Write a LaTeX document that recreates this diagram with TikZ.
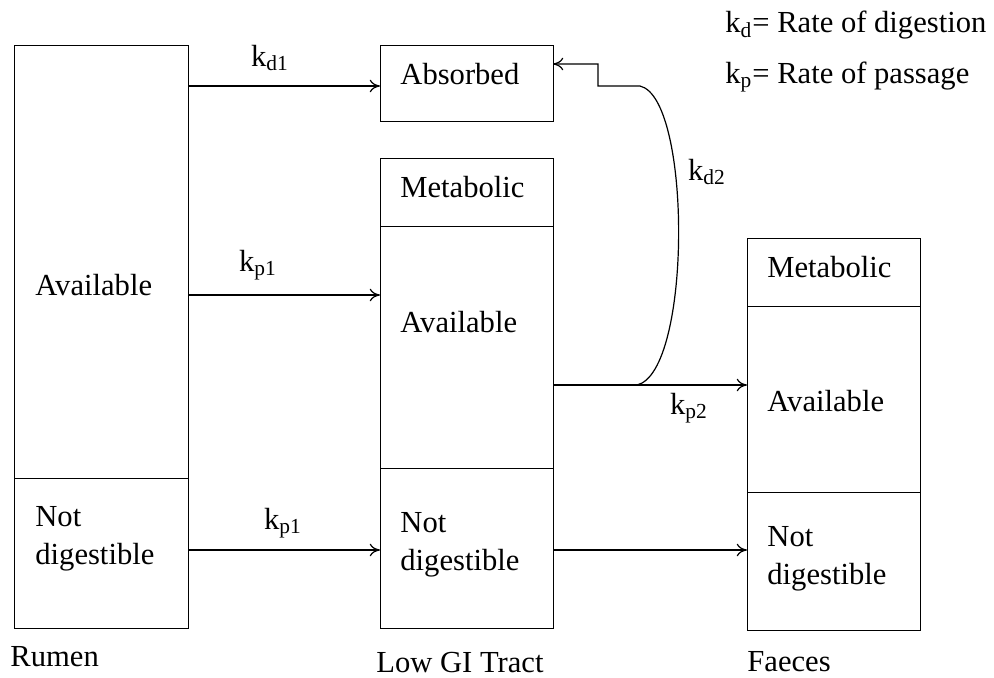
\documentclass[tikz,border=0pt]{standalone}
\usepackage{fontspec}
\setmainfont{Liberation Serif}
\usetikzlibrary{arrows.meta, positioning, calc}
\tikzset{
  sect/.style  = {rectangle, draw=black, line width=0.6pt, anchor=north west,
                  inner sep=0pt, minimum width=87pt},
  txt/.style   = {font=\fontsize{15.3}{18}\selectfont, anchor=west, inner sep=0pt,
                  align=left},
  rate/.style  = {font=\fontsize{15.3}{18}\selectfont, inner sep=1pt},
  fl/.style    = {-{To[length=1.8mm,width=2.2mm]}, draw=black, line width=0.6pt},
}
\newcommand{\rk}[1]{k\textsubscript{#1}}

\begin{document}
\begin{tikzpicture}[x=0.5pt, y=-0.5pt]
  \useasboundingbox (0,0) rectangle (994,677);

  % ---- Rumen ---------------------------------------------------------------
  \node[sect, minimum height=216.5pt] (rumA) at (14,45) {};
  \node[sect, minimum height=75pt]    (rumN) at (14,478) {};
  \node[txt] (rumAt) at (35,285) {Available};
  \node[txt] (rumNt) at (35,539) {Not\\[1pt]digestible};
  \node[txt] (rumT) at (10,657) {Rumen};

  % ---- Absorbed ------------------------------------------------------------
  \node[sect, minimum width=86.5pt, minimum height=38pt] (abs) at (380,45) {};
  \node[txt] (abst) at (400,74) {Absorbed};

  % ---- Low GI tract --------------------------------------------------------
  \node[sect, minimum width=86.5pt, minimum height=34pt]  (lowM) at (380,158) {};
  \node[sect, minimum width=86.5pt, minimum height=121pt] (lowA) at (380,226) {};
  \node[sect, minimum width=86.5pt, minimum height=80pt]  (lowN) at (380,468) {};
  \node[txt] (lowMt) at (400,187) {Metabolic};
  \node[txt] (lowAt) at (400,322) {Available};
  \node[txt] (lowNt) at (400,545) {Not\\[1pt]digestible};
  \node[txt] (lowT) at (376,662) {Low GI Tract};

  % ---- Faeces --------------------------------------------------------------
  \node[sect, minimum width=86.5pt, minimum height=34pt] (faeM) at (747,238) {};
  \node[sect, minimum width=86.5pt, minimum height=93pt] (faeA) at (747,306) {};
  \node[sect, minimum width=86.5pt, minimum height=69pt] (faeN) at (747,492) {};
  \node[txt] (faeMt) at (767,267) {Metabolic};
  \node[txt] (faeAt) at (767,401) {Available};
  \node[txt] (faeNt) at (767,559) {Not\\[1pt]digestible};
  \node[txt] (faeT) at (747,662) {Faeces};

  % ---- flows ---------------------------------------------------------------
  \coordinate (p1) at (380,295);
  \coordinate (p2) at (747,385);
  \coordinate (d2s) at (637,385);
  \coordinate (d2e) at (553,64);
  \draw[fl] (rumA.east |- 0,86) -- (abs.west |- 0,86);
  \draw[fl] (rumA.east |- p1) -- (p1);
  \draw[fl] (rumN.east |- 0,550) -- (lowN.west |- 0,550);
  \draw[fl] (lowA.east |- p2) -- (p2);
  \draw[fl] (lowN.east |- 0,550) -- (faeN.west |- 0,550);
  \draw[fl] (d2s) .. controls (692,372) and (692,98) .. (640,86)
            -- (598,86) -- (598,64) -- (d2e);

  \node[rate] (kd1) at (270,58)  {\rk{d1}};
  \node[rate] (kp1) at (258,265) {\rk{p1}};
  \node[rate] (kp1b) at (283,523) {\rk{p1}};
  \node[rate] (kp2) at (689,408) {\rk{p2}};
  \node[rate] (kd2) at (707,172) {\rk{d2}};

  % ---- legend --------------------------------------------------------------
  \node[txt] (legd) at (725,25) {\rk{d}= Rate of digestion};
  \node[txt] (legp) at (725,77) {\rk{p}= Rate of passage};
\end{tikzpicture}
\end{document}
